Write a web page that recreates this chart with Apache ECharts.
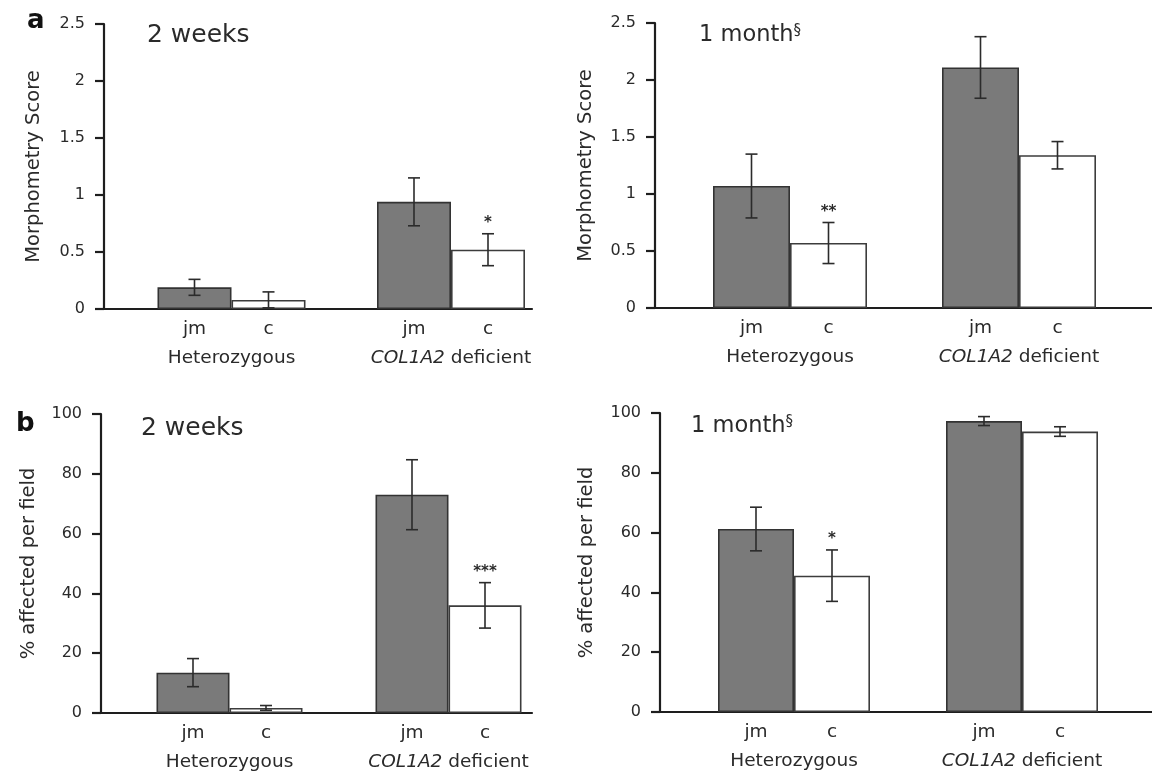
<!DOCTYPE html>
<html>
<head>
<meta charset="utf-8">
<script src="https://cdn.jsdelivr.net/npm/echarts@6/dist/echarts.min.js"></script>
<style>
  html, body { margin: 0; padding: 0; background: #ffffff; }
  #chart { width: 1152px; height: 778px; }
</style>
</head>
<body>
<div id="chart"></div>
<script>
// ---------------- data ----------------
const groups = ['Heterozygous', 'COL1A2 deficient'];
const treatments = ['jm', 'c'];
const geneSymbol = 'COL1A2';

// panel a – morphometry score
const morphTicks = { min: 0, max: 2.5, interval: 0.5 };
const a2w_jm = [0.19, 0.94];
const a2w_jmErr = [0.07, 0.21];
const a2w_c = [0.08, 0.52];
const a2w_cErr = [0.07, 0.14];
const a2w_sig = ['', '*'];

const a1m_jm = [1.07, 2.11];
const a1m_jmErr = [0.28, 0.27];
const a1m_c = [0.57, 1.34];
const a1m_cErr = [0.18, 0.12];
const a1m_sig = ['**', ''];

// panel b – % affected per field
const pctTicks = { min: 0, max: 100, interval: 20 };
const b2w_jm = [13.5, 73];
const b2w_jmErr = [4.7, 11.7];
const b2w_c = [1.7, 36];
const b2w_cErr = [0.8, 7.6];
const b2w_sig = ['', '***'];

const b1m_jm = [61.2, 97.3];
const b1m_jmErr = [7.3, 1.5];
const b1m_c = [45.6, 93.8];
const b1m_cErr = [8.6, 1.6];
const b1m_sig = ['*', ''];

// ---------------- layout / style ----------------
const FONT = '"DejaVu Sans", "Liberation Sans", Arial, sans-serif';
const TXT = '#2a2a2a';
const AXIS = '#1e1e1e';
const JM_FILL = '#7a7a7a';

const panels = [
  { axisX: 104, axisEnd: 532, top: 24, bottom: 309, grpLeft: 121.75, grpWidth: 439, bw: 74, nameGap: 60,
    yname: 'Morphometry Score', ticks: morphTicks,
    jm: a2w_jm, jmErr: a2w_jmErr, c: a2w_c, cErr: a2w_cErr, sig: a2w_sig },
  { axisX: 655, axisEnd: 1152, top: 23, bottom: 308, grpLeft: 675.5, grpWidth: 458, bw: 77, nameGap: 59,
    yname: 'Morphometry Score', ticks: morphTicks,
    jm: a1m_jm, jmErr: a1m_jmErr, c: a1m_c, cErr: a1m_cErr, sig: a1m_sig },
  { axisX: 101, axisEnd: 532, top: 414, bottom: 713, grpLeft: 120, grpWidth: 438, bw: 73, nameGap: 62,
    yname: '% affected per field', ticks: pctTicks,
    jm: b2w_jm, jmErr: b2w_jmErr, c: b2w_c, cErr: b2w_cErr, sig: b2w_sig },
  { axisX: 660, axisEnd: 1152, top: 413, bottom: 712, grpLeft: 680, grpWidth: 456, bw: 76, nameGap: 63,
    yname: '% affected per field', ticks: pctTicks,
    jm: b1m_jm, jmErr: b1m_jmErr, c: b1m_c, cErr: b1m_cErr, sig: b1m_sig }
];

const grid = [], xAxis = [], yAxis = [], series = [];

panels.forEach((p, i) => {
  const h = p.bottom - p.top;
  const gA = grid.length;
  grid.push({ left: p.axisX, top: p.top, width: p.axisEnd - p.axisX, height: h, outerBoundsMode: 'none' });
  const gB = grid.length;
  grid.push({ left: p.grpLeft, top: p.top, width: p.grpWidth, height: h, outerBoundsMode: 'none' });

  // frame axes (grid A)
  xAxis.push({
    gridIndex: gA, type: 'value', min: 0, max: 1, show: true,
    axisLine: { show: true, onZero: false, lineStyle: { color: AXIS, width: 2.2 } },
    axisTick: { show: false }, axisLabel: { show: false }, splitLine: { show: false }
  });
  yAxis.push({
    gridIndex: gA, type: 'value', min: p.ticks.min, max: p.ticks.max, interval: p.ticks.interval,
    name: p.yname, nameLocation: 'middle', nameGap: p.nameGap,
    nameTextStyle: { fontFamily: FONT, fontSize: 19.5, color: TXT },
    axisLine: { show: true, lineStyle: { color: AXIS, width: 2.2 } },
    axisTick: { show: true, inside: false, length: 9, lineStyle: { color: AXIS, width: 2.2 } },
    axisLabel: { fontFamily: FONT, fontSize: 16, color: TXT, margin: 19 },
    splitLine: { show: false }
  });

  // data axes (grid B)
  const bw = p.bw;
  xAxis.push({
    gridIndex: gB, type: 'category', data: groups,
    axisLine: { show: false }, axisTick: { show: false }, splitLine: { show: false },
    axisLabel: {
      margin: 7, interval: 0,
      formatter: (val) => {
        const top = treatments.map(t => '{t|' + t + '}').join('');
        let bottom;
        if (val.indexOf(geneSymbol) === 0) {
          bottom = '{i|' + geneSymbol + '}{g|' + val.slice(geneSymbol.length) + '}';
        } else {
          bottom = '{g|' + val + '}';
        }
        return top + '\n' + bottom;
      },
      rich: {
        t: { width: bw, align: 'center', fontFamily: FONT, fontSize: 18.5, color: TXT, lineHeight: 26 },
        g: { align: 'center', fontFamily: FONT, fontSize: 18.5, color: TXT, lineHeight: 32 },
        i: { align: 'center', fontFamily: FONT, fontSize: 18.5, fontStyle: 'italic', color: TXT, lineHeight: 32 }
      }
    }
  });
  yAxis.push({
    gridIndex: gB, type: 'value', min: p.ticks.min, max: p.ticks.max, interval: p.ticks.interval,
    show: false, splitLine: { show: false }
  });

  const xi = xAxis.length - 1, yi = yAxis.length - 1;
  series.push({
    type: 'bar', name: treatments[0], xAxisIndex: xi, yAxisIndex: yi,
    data: p.jm, barWidth: bw, barGap: '0%',
    itemStyle: { color: JM_FILL, borderColor: '#333333', borderWidth: 1.6 },
    silent: true, z: 2
  });
  series.push({
    type: 'bar', name: treatments[1], xAxisIndex: xi, yAxisIndex: yi,
    data: p.c, barWidth: bw, barGap: '0%',
    itemStyle: { color: '#ffffff', borderColor: '#3c3c3c', borderWidth: 1.6 },
    silent: true, z: 2
  });

  // error bars + significance marks
  const errData = [];
  p.jm.forEach((v, k) => errData.push([k, v, p.jmErr[k], -1, '']));
  p.c.forEach((v, k) => errData.push([k, v, p.cErr[k], 1, p.sig[k]]));
  series.push({
    type: 'custom', xAxisIndex: xi, yAxisIndex: yi, silent: true, z: 5,
    data: errData,
    renderItem: (params, api) => {
      const cat = api.value(0), v = api.value(1), e = api.value(2), side = api.value(3);
      const sig = errData[params.dataIndex][4];
      const cx = api.coord([cat, v])[0] + side * bw / 2;
      const yT = api.coord([cat, v + e])[1];
      const yB = api.coord([cat, Math.max(v - e, 0)])[1];
      const cap = 6;
      const ls = { stroke: '#2b2b2b', lineWidth: 1.6 };
      const children = [
        { type: 'line', shape: { x1: cx, y1: yT, x2: cx, y2: yB }, style: ls },
        { type: 'line', shape: { x1: cx - cap, y1: yT, x2: cx + cap, y2: yT }, style: ls },
        { type: 'line', shape: { x1: cx - cap, y1: yB, x2: cx + cap, y2: yB }, style: ls }
      ];
      if (sig) {
        children.push({
          type: 'text',
          style: { text: sig, x: cx, y: yT - 3, textAlign: 'center', textVerticalAlign: 'bottom',
                   font: 'bold 15px ' + FONT, fill: TXT }
        });
      }
      return { type: 'group', children };
    }
  });
});

const richTitle = {
  m: { font: '22.5px ' + FONT, fill: TXT, verticalAlign: 'bottom' },
  s: { font: '15px ' + FONT, fill: TXT, verticalAlign: 'top' }
};
const graphic = [
  { type: 'text', style: { text: 'a', x: 27, y: 34, textVerticalAlign: 'bottom', font: 'bold 26px ' + FONT, fill: '#111' } },
  { type: 'text', style: { text: 'b', x: 16, y: 437, textVerticalAlign: 'bottom', font: 'bold 26px ' + FONT, fill: '#111' } },
  { type: 'text', style: { text: '2 weeks', x: 147, y: 23, textVerticalAlign: 'top', font: '25px ' + FONT, fill: TXT } },
  { type: 'text', style: { text: '2 weeks', x: 141, y: 416, textVerticalAlign: 'top', font: '25px ' + FONT, fill: TXT } },
  { type: 'text', style: { text: '{m|1 month}{s|§}', x: 699, y: 24, textVerticalAlign: 'top', fill: TXT, rich: richTitle } },
  { type: 'text', style: { text: '{m|1 month}{s|§}', x: 691, y: 415, textVerticalAlign: 'top', fill: TXT, rich: richTitle } }
];

const chart = echarts.init(document.getElementById('chart'), null, { renderer: 'canvas' });
chart.setOption({
  animation: false,
  backgroundColor: '#ffffff',
  textStyle: { fontFamily: FONT },
  grid, xAxis, yAxis, series, graphic
});
</script>
</body>
</html>
